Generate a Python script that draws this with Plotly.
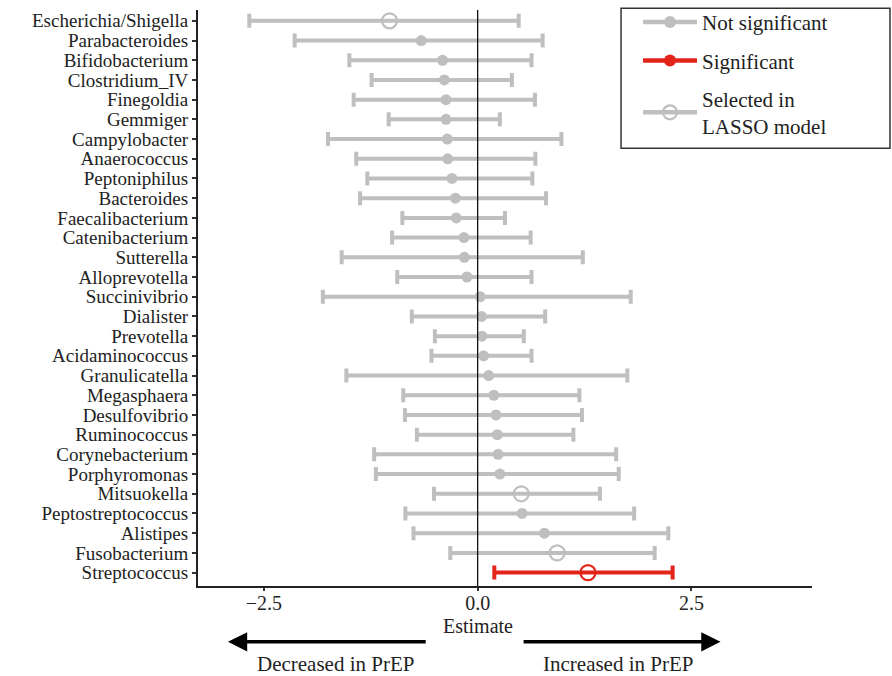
import plotly.graph_objects as go

genera = ["Escherichia/Shigella", "Parabacteroides", "Bifidobacterium", "Clostridium_IV",
          "Finegoldia", "Gemmiger", "Campylobacter", "Anaerococcus", "Peptoniphilus",
          "Bacteroides", "Faecalibacterium", "Catenibacterium", "Sutterella",
          "Alloprevotella", "Succinivibrio", "Dialister", "Prevotella", "Acidaminococcus",
          "Granulicatella", "Megasphaera", "Desulfovibrio", "Ruminococcus",
          "Corynebacterium", "Porphyromonas", "Mitsuokella", "Peptostreptococcus",
          "Alistipes", "Fusobacterium", "Streptococcus"]
estimate = [-1.03, -0.66, -0.41, -0.39, -0.37, -0.37, -0.355, -0.35, -0.30, -0.26, -0.25,
            -0.16, -0.155, -0.125, 0.03, 0.045, 0.05, 0.07, 0.13, 0.19, 0.215, 0.23, 0.24,
            0.26, 0.51, 0.52, 0.78, 0.93, 1.29]
lower = [-2.67, -2.14, -1.50, -1.24, -1.45, -1.04, -1.75, -1.42, -1.29, -1.375, -0.88,
         -1.00, -1.59, -0.94, -1.81, -0.77, -0.50, -0.54, -1.535, -0.87, -0.85, -0.71,
         -1.21, -1.19, -0.51, -0.845, -0.75, -0.32, 0.195]
upper = [0.48, 0.76, 0.63, 0.40, 0.67, 0.26, 0.98, 0.675, 0.64, 0.80, 0.32, 0.62, 1.23,
         0.63, 1.79, 0.79, 0.54, 0.63, 1.75, 1.19, 1.22, 1.12, 1.62, 1.65, 1.43, 1.83,
         2.23, 2.07, 2.28]
significant = [False] * 28 + [True]
lasso_selected = ["Escherichia/Shigella", "Mitsuokella", "Fusobacterium", "Streptococcus"]

GRAY = "#bfbfbf"
RED = "#e3241b"
FONT = "Liberation Serif"
FS = 21
FS_Y = 19
FS_X = 20

fig = go.Figure()


def add_group(idx, color, symbol, size, lw):
    if not idx:
        return
    fig.add_trace(go.Scatter(
        x=[estimate[i] for i in idx],
        y=[genera[i] for i in idx],
        mode="markers",
        marker=dict(color=color, size=size, symbol=symbol, line=dict(color=color, width=lw)),
        error_x=dict(type="data", symmetric=False,
                     array=[upper[i] - estimate[i] for i in idx],
                     arrayminus=[estimate[i] - lower[i] for i in idx],
                     color=color, thickness=4, width=7),
        showlegend=False, hoverinfo="skip"))


n = len(genera)
for sig, color in [(False, GRAY), (True, RED)]:
    filled = [i for i in range(n) if significant[i] == sig and genera[i] not in lasso_selected]
    opened = [i for i in range(n) if significant[i] == sig and genera[i] in lasso_selected]
    add_group(filled, color, "circle", 11, 0)
    add_group(opened, color, "circle-open", 15, 2.2)

# legend entries
legend_items = [("Not significant", GRAY, "circle", 12, 0),
                ("Significant", RED, "circle", 12, 0),
                ("Selected in<br>LASSO model", GRAY, "circle-open", 14, 2.2)]
for k, (name, color, symbol, size, lw) in enumerate(legend_items):
    fig.add_trace(go.Scatter(
        x=[None], y=[None], mode="lines+markers", name=name, legendgroup=str(k),
        line=dict(color=color, width=4.5),
        marker=dict(color=color, size=size, symbol=symbol, line=dict(color=color, width=lw))))

fig.add_shape(type="line", xref="x", yref="paper", x0=0, x1=0, y0=0, y1=1,
              line=dict(color="#111111", width=1.3), layer="above")

# legend frame
fig.add_shape(type="rect", xref="paper", yref="paper", x0=0.689, x1=1.127, y0=0.760, y1=1.003,
              line=dict(color="#333333", width=1.5), fillcolor="white", layer="above")

# x-axis title
fig.add_annotation(xref="x", yref="paper", x=0.0, y=-0.0694, text="Estimate",
                   showarrow=False, yanchor="middle",
                   font=dict(family=FONT, size=FS_X, color="#222222"))

# direction arrows
arrow_y = -0.097
text_y = -0.136
fig.add_annotation(xref="x", yref="paper", x=-2.92, y=arrow_y, ax=-0.59, ay=0,
                   axref="x", ayref="pixel", showarrow=True, arrowhead=2, arrowsize=1.1,
                   arrowwidth=3.5, arrowcolor="#000000", text="")
fig.add_annotation(xref="x", yref="paper", x=2.84, y=arrow_y, ax=0.52, ay=0,
                   axref="x", ayref="pixel", showarrow=True, arrowhead=2, arrowsize=1.1,
                   arrowwidth=3.5, arrowcolor="#000000", text="")
fig.add_annotation(xref="x", yref="paper", x=-1.66, y=text_y,
                   text="Decreased in PrEP", showarrow=False,
                   font=dict(family=FONT, size=FS, color="#222222"), yanchor="middle")
fig.add_annotation(xref="x", yref="paper", x=1.64, y=text_y,
                   text="Increased in PrEP", showarrow=False,
                   font=dict(family=FONT, size=FS, color="#222222"), yanchor="middle")

fig.update_layout(
    width=892, height=676,
    margin=dict(l=198, r=80, t=10, b=90, autoexpand=False),
    paper_bgcolor="white", plot_bgcolor="white",
    font=dict(family=FONT, size=FS, color="#222222"),
    legend=dict(x=0.7166, y=1.014, xanchor="left", yanchor="top",
                borderwidth=0, bgcolor="rgba(0,0,0,0)",
                font=dict(family=FONT, size=FS, color="#222222"),
                tracegroupgap=8, itemwidth=54),
    xaxis=dict(range=[-3.27, 3.91], tickvals=[-2.5, 0, 2.5],
               ticktext=["\u22122.5", "0.0", "2.5"], showgrid=False, zeroline=False,
               showline=True, linecolor="#222222", linewidth=2,
               ticks="outside", ticklen=3, tickwidth=1.5, tickcolor="#333333",
               ticklabelstandoff=-5, tickfont=dict(size=FS_X)),
    yaxis=dict(type="category", categoryorder="array", categoryarray=genera,
               tickmode="array", tickvals=genera,
               range=[n - 1 + 0.68, -0.55], showgrid=False, zeroline=False,
               showline=True, linecolor="#222222", linewidth=2,
               ticks="outside", ticklen=4, tickwidth=2, tickcolor="#333333",
               tickfont=dict(size=FS_Y)),
)

fig.write_html("out.html")
